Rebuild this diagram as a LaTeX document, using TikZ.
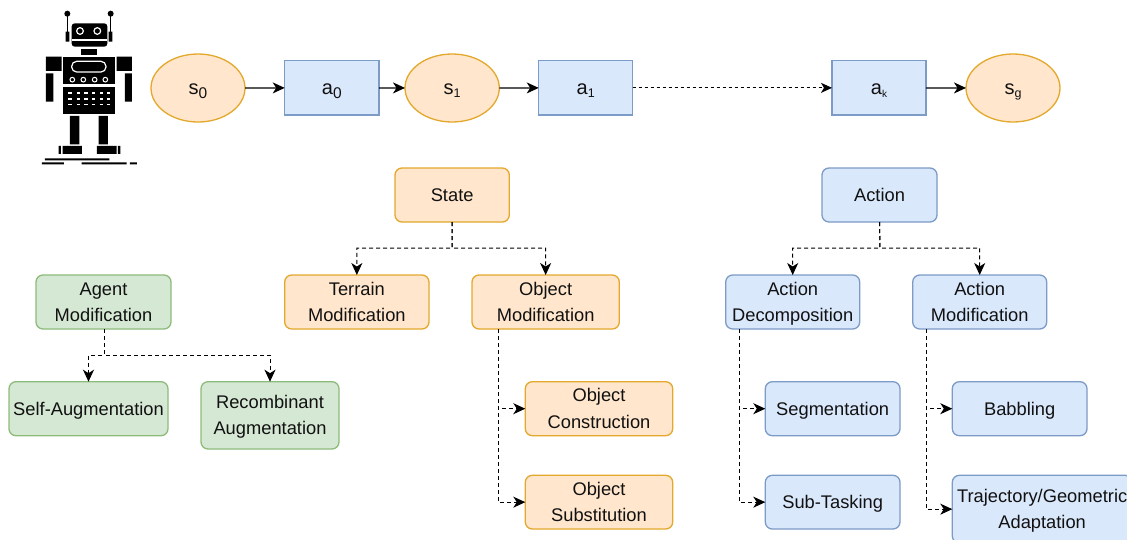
\documentclass[tikz,border=0pt]{standalone}
\usepackage{fontspec}
\setmainfont{Liberation Sans}
\usetikzlibrary{arrows.meta,calc,shapes.geometric}
\definecolor{ofill}{HTML}{FFE6CC}\definecolor{ostroke}{HTML}{E3A82C}
\definecolor{bfill}{HTML}{DAE8FC}\definecolor{bstroke}{HTML}{7C9BC6}
\definecolor{gfill}{HTML}{D5E8D4}\definecolor{gstroke}{HTML}{8DBB7A}
\definecolor{inkc}{HTML}{111111}
\tikzset{
  base/.style={inner sep=0pt,outer sep=0pt,align=center,text=inkc,line width=1.3pt,font=\fontsize{18.3}{26.5}\selectfont},
  obox/.style={base,draw=ostroke,fill=ofill,rounded corners=7pt},
  bbox/.style={base,draw=bstroke,fill=bfill,rounded corners=7pt},
  gbox/.style={base,draw=gstroke,fill=gfill,rounded corners=7pt},
  seqrect/.style={base,draw=bstroke,fill=bfill},
  seqell/.style={base,draw=ostroke,fill=ofill,ellipse},
  solidarrow/.style={draw=black,line width=1.2pt,-{Stealth[length=12pt,width=11pt,inset=3.5pt]}},
  dasharrow/.style={draw=black,line width=1pt,dash pattern=on 4pt off 3pt,-{Stealth[length=12pt,width=11pt,inset=3.5pt]}},
  finearrow/.style={draw=black,line width=.9pt,dash pattern=on 3pt off 3pt,-{Stealth[length=11pt,width=10pt,inset=3pt]}},
  robotink/.style={fill=black,draw=none},
  robotline/.style={draw=black,line cap=round},
}
\newcommand{\bx}[7]{\node[#6,minimum width={(#4-#2)*1pt},minimum height={(#5-#3)*1pt}] (#1) at ({(#2+#4)/2},{(#3+#5)/2}) {\rule{0pt}{18.55pt}#7\rule[-5.95pt]{0pt}{5.95pt}};}
\newcommand{\seqlab}[4]{{\fontsize{20}{26.5}\selectfont #1\raisebox{-#3pt}{\fontsize{#2}{#2}\selectfont #4}}}
\begin{document}
\begin{tikzpicture}[x=1pt,y=-1pt]
\useasboundingbox (0,0) rectangle (1127,539);
% robot
\begin{scope}[x=0.3333pt,y=-0.3333pt]
\draw[robotline,line width=1.5pt] (202,41) -- (202,100);
\draw[robotline,line width=1.5pt] (332,41) -- (332,100);
\fill[robotink] (202,41) circle (9) (332,41) circle (9);
\fill[robotink] (197,95) rectangle (208,125) (326,95) rectangle (337,125);
\fill[robotink,rounded corners=3pt] (215,70) rectangle (322,140);
\fill[white] (215,117) rectangle (322,122);
\draw[white,line width=1.2pt] (240,93) circle (10) (292,93) circle (10);
\fill[robotink] (242,146) rectangle (292,165);
\fill[robotink] (190,170) rectangle (345,253);
\fill[robotink] (190,260) rectangle (345,342);
\fill[robotink] (138,170) rectangle (185,213) (350,170) rectangle (396,213);
\fill[robotink] (138,220) rectangle (160,305) (375,220) rectangle (396,305);
\fill[robotink] (210,348) rectangle (238,433) (296,348) rectangle (324,433);
\fill[robotink] (188,438) rectangle (246,462) (291,438) rectangle (350,462);
\fill[robotink] (176,438) rectangle (183,462) (354,438) rectangle (361,462);
\fill[robotink] (135,475) rectangle (328,481) (126,487) rectangle (192,493) (245,487) rectangle (380,493) (390,487) rectangle (411,493);
\draw[white,line width=1.2pt,rounded corners=5pt] (215,184) rectangle (318,216);
\foreach \px in {217,250,284,316} \draw[white,line width=1pt] (\px,239) circle (7);
\foreach \py in {280,297,314} \foreach \px in {210,235,258,281,304,325} \fill[white] (\px-5,\py-2.5) rectangle (\px+5,\py+2.5);
\end{scope}
% sequence
\bx{szero}{151}{54}{245}{122}{seqell}{\seqlab{s}{15.5}{4}{0}}
\bx{azero}{284.7}{60.7}{379}{115}{seqrect}{\seqlab{a}{15.5}{4}{0}}
\bx{sone}{405}{54}{499.3}{122}{seqell}{\seqlab{s}{12.5}{3}{1}}
\bx{aone}{538.7}{60.7}{632.7}{115}{seqrect}{\seqlab{a}{12.5}{3}{1}}
\bx{ak}{832}{60.7}{926}{115}{seqrect}{\seqlab{a}{10}{3}{k}}
\bx{sg}{966}{54}{1060}{122}{seqell}{\seqlab{s}{12.5}{3}{g}}
% boxes
\bx{state}{395}{168}{509.3}{222}{obox}{State}
\bx{terrain}{284.7}{275}{429}{329}{obox}{Terrain\\Modification}
\bx{objmod}{472}{275}{619.3}{329}{obox}{Object\\Modification}
\bx{objcon}{525.3}{381.7}{672.7}{435.7}{obox}{Object\\Construction}
\bx{objsub}{525.3}{475.3}{672.7}{529}{obox}{Object\\Substitution}
\bx{action}{822}{168}{937}{222}{bbox}{Action}
\bx{actdec}{725.7}{275}{859.7}{329}{bbox}{Action\\Decomposition}
\bx{actmod}{912.7}{275}{1046.7}{329}{bbox}{Action\\Modification}
\bx{segm}{765.3}{381.7}{900}{435.7}{bbox}{Segmentation}
\bx{babb}{952.3}{381.7}{1087}{435.7}{bbox}{Babbling}
\bx{subt}{765.3}{475.3}{900}{529}{bbox}{Sub-Tasking}
\bx{traj}{952.3}{475.3}{1132}{543}{bbox}{Trajectory/Geometric\\Adaptation}
\bx{agent}{36}{275}{171}{329}{gbox}{Agent\\Modification}
\bx{selfaug}{9}{381.7}{168}{435.7}{gbox}{Self-Augmentation}
\bx{recomb}{201}{381.7}{339}{449}{gbox}{Recombinant\\Augmentation}
% connectors
\draw[solidarrow] (szero) -- (azero);
\draw[solidarrow] (azero) -- (sone);
\draw[solidarrow] (sone) -- (aone);
\draw[finearrow] (aone) -- (ak);
\draw[solidarrow] (ak) -- (sg);
\coordinate (statej) at (452,248);
\draw[dasharrow] (state.south) -- (statej) -| (terrain.north);
\draw[dasharrow] (state.south) -- (statej) -| (objmod.north);
\coordinate (actionj) at (880,248);
\draw[dasharrow] (action.south) -- (actionj) -| (actdec.north);
\draw[dasharrow] (action.south) -- (actionj) -| (actmod.north);
\coordinate (agentj) at (104,355);
\coordinate (agentt) at (104,329);
\draw[dasharrow] (agentt) -- (agentj) -| (selfaug.north);
\draw[dasharrow] (agentt) -- (agentj) -| (recomb.north);
\coordinate (objt) at (498,329);
\draw[dasharrow] (objt) |- (objcon.west);
\draw[dasharrow] (objt) |- (objsub.west);
\coordinate (dect) at (739,329);
\draw[dasharrow] (dect) |- (segm.west);
\draw[dasharrow] (dect) |- (subt.west);
\coordinate (modt) at (926,329);
\draw[dasharrow] (modt) |- (babb.west);
\draw[dasharrow] (modt) |- (traj.west);
\end{tikzpicture}
\end{document}
